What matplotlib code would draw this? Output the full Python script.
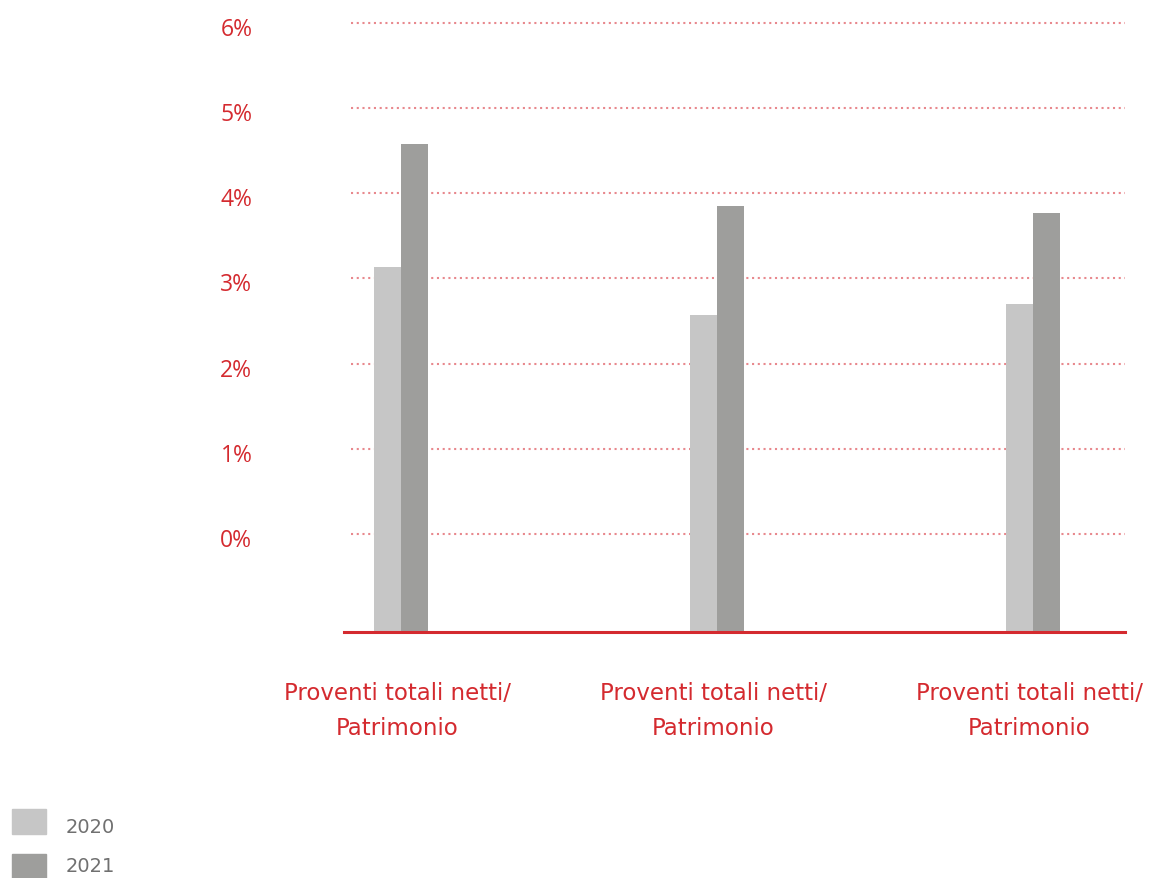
import matplotlib
matplotlib.use("Agg")
import matplotlib.pyplot as plt
from matplotlib.patches import Rectangle
from matplotlib.transforms import ScaledTranslation

categories = ["Proventi totali netti/\nPatrimonio"] * 3
series_names = ["2020", "2021"]
values_2020 = [3.13, 2.57, 2.70]
values_2021 = [4.58, 3.85, 3.77]
yticks = [0, 1, 2, 3, 4, 5, 6]
ytick_labels = ["0%", "1%", "2%", "3%", "4%", "5%", "6%"]

RED = "#d42a2f"
GRID = "#e8888d"
C2020 = "#c6c6c6"
C2021 = "#9e9e9c"

plt.rcParams['font.family'] = ['DejaVu Sans']

W, H = 1152, 879
fig = plt.figure(figsize=(W / 100, H / 100), dpi=100)
left, right, bottom, top = 344, 1125, 633, 11
ax = fig.add_axes([left / W, 1 - bottom / H, (right - left) / W, (bottom - top) / H])

ymin = -98 / 85.17
ymax = (534 - top + 1) / 85.17
ax.set_ylim(ymin, ymax)
ax.set_xlim(-57 / 316, 2 + 92 / 316)

bw = 27 / 316
x = list(range(len(categories)))
for i in x:
    ax.bar(i - bw / 2, values_2020[i] - ymin, bottom=ymin, width=bw, color=C2020, zorder=3)
    ax.bar(i + bw / 2, values_2021[i] - ymin, bottom=ymin, width=bw, color=C2021, zorder=3)

gx0 = -57 / 316 + 7 / 316
ax.hlines(yticks, gx0, ax.get_xlim()[1], colors=GRID, linestyles=(0, (1, 1.75)), linewidth=1.5, zorder=1)
ax.axhline(ymin, color=RED, linewidth=2.2, zorder=4, clip_on=False)

for s in ax.spines.values():
    s.set_visible(False)
ax.set_yticks(yticks)
ax.set_yticklabels(ytick_labels, color=RED, fontsize=16.5, family=['Open Sans', 'DejaVu Sans'])
ax.tick_params(axis='y', length=0, pad=66)
for lbl in ax.get_yticklabels():
    lbl.set_transform(lbl.get_transform() + ScaledTranslation(0, -3 / 100, fig.dpi_scale_trans))
ax.set_xticks(x)
ax.set_xticklabels(categories, color=RED, fontsize=16.5, linespacing=1.7)
ax.tick_params(axis='x', length=0, pad=35)
for lbl in ax.get_xticklabels():
    lbl.set_transform(lbl.get_transform() + ScaledTranslation(-4 / 100, 0, fig.dpi_scale_trans))

# legend
for name, col, ysq, ytx in [(series_names[0], C2020, 810, 828), (series_names[1], C2021, 855, 867)]:
    fig.patches.append(Rectangle((12 / W, 1 - (ysq + 25) / H), 34 / W, 25 / H,
                                 transform=fig.transFigure, color=col))
    fig.text(66 / W, 1 - ytx / H, name, color="#707070", fontsize=14, va='center')

fig.savefig("out.png", dpi=100)
